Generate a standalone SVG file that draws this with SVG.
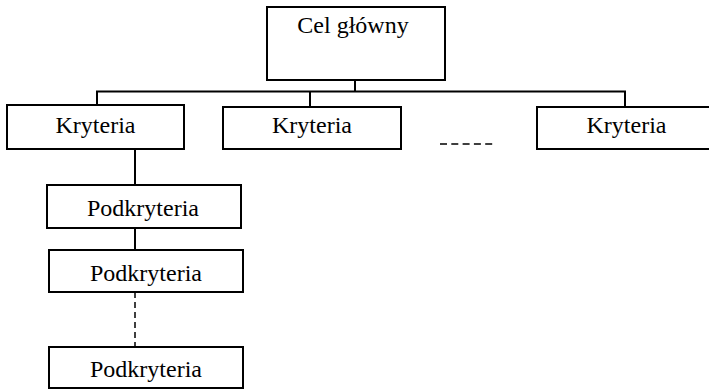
<svg xmlns="http://www.w3.org/2000/svg" width="709" height="390" viewBox="0 0 709 390">
<style>
.box{fill:#fff;stroke:#000;stroke-width:2}
.lbl{font-family:"Liberation Serif","Times New Roman",serif;font-size:24px;fill:#000;text-anchor:middle}
.ln{fill:none;stroke:#000;stroke-width:2}
.dash{fill:none;stroke:#000;stroke-width:1.5;stroke-dasharray:6 4}
</style>
<rect width="709" height="390" fill="#fff"/>
<g id="connectors">
<path class="ln" d="M355 80V91.5M97 104V91.5H625V107M310 91.5V107"/>
<path class="ln" d="M135 149V185M135 228V250"/>
<path class="dash" d="M135 292V347"/>
<path fill="none" stroke="#000" stroke-width="1.4" stroke-dasharray="7 4.3" d="M440 144H492.2"/>
</g>
<g id="cel"><rect class="box" x="267" y="7" width="178" height="73"/><text class="lbl" x="353" y="33">Cel główny</text></g>
<g id="kryteria1"><rect class="box" x="7" y="105" width="177" height="44"/><text class="lbl" x="95.5" y="133">Kryteria</text></g>
<g id="kryteria2"><rect class="box" x="223" y="107" width="178" height="42"/><text class="lbl" x="312" y="133">Kryteria</text></g>
<g id="kryteria3"><rect class="box" x="537" y="107" width="180" height="42"/><text class="lbl" x="626.5" y="133">Kryteria</text></g>
<g id="podkryteria1"><rect class="box" x="47" y="185" width="194" height="43"/><text class="lbl" x="143" y="216">Podkryteria</text></g>
<g id="podkryteria2"><rect class="box" x="49" y="250" width="194" height="42"/><text class="lbl" x="146" y="281">Podkryteria</text></g>
<g id="podkryteria3"><rect class="box" x="49" y="347" width="194" height="41"/><text class="lbl" x="146" y="377">Podkryteria</text></g>
</svg>
